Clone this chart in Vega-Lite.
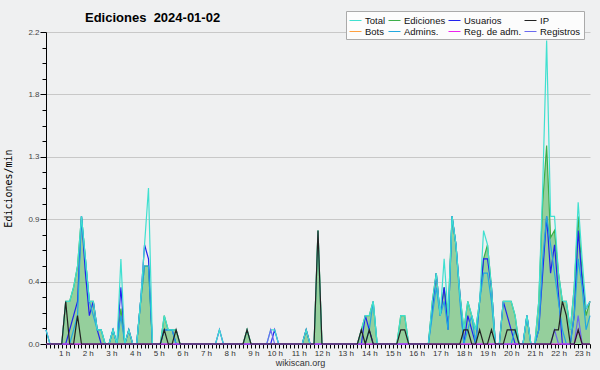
{
  "$schema": "https://vega.github.io/schema/vega-lite/v6.json",
  "width": 544,
  "height": 312,
  "autosize": {"type": "none"},
  "padding": {"left": 46, "top": 32, "right": 10, "bottom": 26},
  "background": "#eff0f1",
  "config": {"view": {"stroke": null}},
  "title": {"text": "Ediciones\u00a0 2024-01-02", "anchor": "start", "frame": "group", "dx": 39, "dy": 24, "font": "Liberation Sans", "fontSize": 13, "fontWeight": "bold", "color": "#000000", "offset": 0, "baseline": "alphabetic"},
  "data": {"values": [
    {"t":0,"T":0.1,"E":0,"U":0.1,"I":0,"A":0,"R":0,"M":0},
    {"t":1,"T":0,"E":0,"U":0,"I":0,"A":0,"R":0,"M":0},
    {"t":4,"T":0,"E":0,"U":0,"I":0,"A":0,"R":0,"M":0},
    {"t":5,"T":0.3,"E":0.3,"U":0,"I":0.3,"A":0,"R":0,"M":0},
    {"t":6,"T":0.3,"E":0.3,"U":0.1,"I":0,"A":0,"R":0,"M":0},
    {"t":7,"T":0.4,"E":0.4,"U":0.2,"I":0,"A":0.1,"R":0,"M":0},
    {"t":8,"T":0.55,"E":0.55,"U":0.3,"I":0.2,"A":0.2,"R":0,"M":0},
    {"t":9,"T":0.9,"E":0.9,"U":0.9,"I":0,"A":0.9,"R":0,"M":0},
    {"t":10,"T":0.6,"E":0.6,"U":0.5,"I":0,"A":0.6,"R":0,"M":0},
    {"t":11,"T":0.3,"E":0.3,"U":0.2,"I":0,"A":0.3,"R":0,"M":0},
    {"t":12,"T":0.3,"E":0.3,"U":0.3,"I":0,"A":0.2,"R":0,"M":0},
    {"t":13,"T":0.1,"E":0.1,"U":0.1,"I":0,"A":0.1,"R":0,"M":0},
    {"t":14,"T":0.1,"E":0.1,"U":0,"I":0,"A":0.1,"R":0,"M":0},
    {"t":15,"T":0,"E":0,"U":0,"I":0,"A":0,"R":0,"M":0},
    {"t":16,"T":0,"E":0,"U":0,"I":0,"A":0,"R":0,"M":0},
    {"t":17,"T":0.1,"E":0.1,"U":0.1,"I":0,"A":0.1,"R":0,"M":0},
    {"t":18,"T":0,"E":0,"U":0,"I":0,"A":0,"R":0,"M":0},
    {"t":19,"T":0.6,"E":0.25,"U":0.4,"I":0,"A":0.2,"R":0,"M":0},
    {"t":20,"T":0,"E":0,"U":0,"I":0,"A":0,"R":0,"M":0},
    {"t":21,"T":0.1,"E":0.1,"U":0.1,"I":0,"A":0,"R":0,"M":0},
    {"t":22,"T":0,"E":0,"U":0,"I":0,"A":0,"R":0,"M":0},
    {"t":23,"T":0,"E":0,"U":0,"I":0,"A":0,"R":0,"M":0},
    {"t":24,"T":0.3,"E":0.3,"U":0.3,"I":0,"A":0.3,"R":0,"M":0},
    {"t":25,"T":0.7,"E":0.55,"U":0.7,"I":0,"A":0.55,"R":0,"M":0},
    {"t":26,"T":1.1,"E":0.55,"U":0.6,"I":0,"A":0.55,"R":0,"M":0},
    {"t":27,"T":0,"E":0,"U":0,"I":0,"A":0,"R":0,"M":0},
    {"t":29,"T":0,"E":0,"U":0,"I":0,"A":0,"R":0,"M":0},
    {"t":30,"T":0.2,"E":0.2,"U":0.1,"I":0.1,"A":0.1,"R":0,"M":0},
    {"t":31,"T":0.1,"E":0.1,"U":0.1,"I":0,"A":0.1,"R":0,"M":0},
    {"t":32,"T":0.1,"E":0.1,"U":0.1,"I":0,"A":0.1,"R":0,"M":0},
    {"t":33,"T":0.1,"E":0.1,"U":0,"I":0.1,"A":0,"R":0,"M":0},
    {"t":34,"T":0,"E":0,"U":0,"I":0,"A":0,"R":0,"M":0},
    {"t":43,"T":0,"E":0,"U":0,"I":0,"A":0,"R":0,"M":0},
    {"t":44,"T":0.1,"E":0,"U":0.1,"I":0,"A":0,"R":0,"M":0},
    {"t":45,"T":0,"E":0,"U":0,"I":0,"A":0,"R":0,"M":0},
    {"t":50,"T":0,"E":0,"U":0,"I":0,"A":0,"R":0,"M":0},
    {"t":51,"T":0.1,"E":0.1,"U":0,"I":0.1,"A":0,"R":0,"M":0},
    {"t":52,"T":0,"E":0,"U":0,"I":0,"A":0,"R":0,"M":0},
    {"t":56,"T":0,"E":0,"U":0,"I":0,"A":0,"R":0,"M":0},
    {"t":57,"T":0.1,"E":0,"U":0,"I":0,"A":0,"R":0.1,"M":0},
    {"t":58,"T":0.1,"E":0,"U":0.1,"I":0,"A":0,"R":0,"M":0},
    {"t":59,"T":0,"E":0,"U":0,"I":0,"A":0,"R":0,"M":0},
    {"t":65,"T":0,"E":0,"U":0,"I":0,"A":0,"R":0,"M":0},
    {"t":66,"T":0.1,"E":0.1,"U":0.1,"I":0,"A":0,"R":0,"M":0},
    {"t":67,"T":0,"E":0,"U":0,"I":0,"A":0,"R":0,"M":0},
    {"t":68,"T":0,"E":0,"U":0,"I":0,"A":0,"R":0,"M":0},
    {"t":69,"T":0.8,"E":0.8,"U":0,"I":0.8,"A":0,"R":0,"M":0},
    {"t":70,"T":0,"E":0,"U":0,"I":0,"A":0,"R":0,"M":0},
    {"t":79,"T":0,"E":0,"U":0,"I":0,"A":0,"R":0,"M":0},
    {"t":80,"T":0.1,"E":0.1,"U":0,"I":0.1,"A":0,"R":0,"M":0},
    {"t":81,"T":0.2,"E":0.2,"U":0.2,"I":0,"A":0,"R":0,"M":0},
    {"t":82,"T":0.2,"E":0.2,"U":0.1,"I":0.1,"A":0.1,"R":0,"M":0},
    {"t":83,"T":0.3,"E":0.3,"U":0,"I":0,"A":0.3,"R":0,"M":0},
    {"t":84,"T":0,"E":0,"U":0,"I":0,"A":0,"R":0,"M":0},
    {"t":89,"T":0,"E":0,"U":0,"I":0,"A":0,"R":0,"M":0},
    {"t":90,"T":0.2,"E":0.2,"U":0,"I":0.1,"A":0,"R":0,"M":0},
    {"t":91,"T":0.2,"E":0.2,"U":0,"I":0.1,"A":0,"R":0,"M":0},
    {"t":92,"T":0,"E":0,"U":0,"I":0,"A":0,"R":0,"M":0},
    {"t":97,"T":0,"E":0,"U":0,"I":0,"A":0,"R":0,"M":0},
    {"t":98,"T":0.3,"E":0.3,"U":0.25,"I":0,"A":0.2,"R":0,"M":0},
    {"t":99,"T":0.5,"E":0.5,"U":0.5,"I":0,"A":0.4,"R":0,"M":0},
    {"t":100,"T":0.2,"E":0.2,"U":0.2,"I":0,"A":0.2,"R":0,"M":0},
    {"t":101,"T":0.6,"E":0.4,"U":0.4,"I":0,"A":0.3,"R":0,"M":0},
    {"t":102,"T":0.2,"E":0.2,"U":0.1,"I":0,"A":0.1,"R":0,"M":0},
    {"t":103,"T":0.9,"E":0.9,"U":0.9,"I":0,"A":0.9,"R":0,"M":0},
    {"t":104,"T":0.7,"E":0.7,"U":0.7,"I":0,"A":0.7,"R":0,"M":0},
    {"t":105,"T":0.35,"E":0.35,"U":0.35,"I":0,"A":0.3,"R":0,"M":0},
    {"t":106,"T":0.1,"E":0.1,"U":0,"I":0.1,"A":0,"R":0,"M":0},
    {"t":107,"T":0.3,"E":0.3,"U":0.2,"I":0.1,"A":0.1,"R":0,"M":0},
    {"t":108,"T":0.2,"E":0.2,"U":0.1,"I":0,"A":0.2,"R":0,"M":0},
    {"t":109,"T":0.1,"E":0.1,"U":0,"I":0,"A":0,"R":0,"M":0},
    {"t":110,"T":0.3,"E":0.3,"U":0.3,"I":0.1,"A":0.3,"R":0,"M":0},
    {"t":111,"T":0.8,"E":0.6,"U":0.6,"I":0,"A":0.5,"R":0,"M":0},
    {"t":112,"T":0.7,"E":0.7,"U":0.6,"I":0,"A":0.5,"R":0,"M":0},
    {"t":113,"T":0.4,"E":0.4,"U":0.4,"I":0.1,"A":0.3,"R":0,"M":0},
    {"t":114,"T":0,"E":0,"U":0,"I":0,"A":0,"R":0,"M":0},
    {"t":115,"T":0,"E":0,"U":0,"I":0,"A":0,"R":0,"M":0},
    {"t":116,"T":0.3,"E":0.3,"U":0.3,"I":0,"A":0,"R":0,"M":0},
    {"t":117,"T":0.3,"E":0.3,"U":0.2,"I":0.1,"A":0,"R":0,"M":0},
    {"t":118,"T":0.3,"E":0.3,"U":0.1,"I":0.1,"A":0,"R":0,"M":0},
    {"t":119,"T":0.2,"E":0.2,"U":0,"I":0.1,"A":0.1,"R":0,"M":0},
    {"t":120,"T":0,"E":0,"U":0,"I":0,"A":0,"R":0,"M":0},
    {"t":121,"T":0,"E":0,"U":0,"I":0,"A":0,"R":0,"M":0},
    {"t":122,"T":0.2,"E":0.2,"U":0.2,"I":0,"A":0.2,"R":0,"M":0},
    {"t":123,"T":0,"E":0,"U":0,"I":0,"A":0,"R":0,"M":0},
    {"t":124,"T":0,"E":0,"U":0,"I":0,"A":0,"R":0,"M":0},
    {"t":125,"T":0.3,"E":0.3,"U":0.1,"I":0,"A":0.1,"R":0,"M":0},
    {"t":126,"T":1.1,"E":1.0,"U":0.5,"I":0,"A":0.6,"R":0,"M":0},
    {"t":127,"T":2.14,"E":1.4,"U":0.9,"I":0,"A":0.9,"R":0,"M":0},
    {"t":128,"T":0.9,"E":0.75,"U":0.5,"I":0,"A":0.7,"R":0,"M":0},
    {"t":129,"T":0.9,"E":0.8,"U":0.7,"I":0.1,"A":0.5,"R":0.1,"M":0},
    {"t":130,"T":0.5,"E":0.5,"U":0.35,"I":0.1,"A":0.3,"R":0,"M":0},
    {"t":131,"T":0.3,"E":0.3,"U":0,"I":0.3,"A":0.1,"R":0,"M":0},
    {"t":132,"T":0.3,"E":0.3,"U":0,"I":0.2,"A":0,"R":0,"M":0},
    {"t":133,"T":0.1,"E":0.1,"U":0,"I":0,"A":0,"R":0,"M":0},
    {"t":134,"T":0.4,"E":0.4,"U":0.2,"I":0,"A":0.2,"R":0,"M":0},
    {"t":135,"T":1.0,"E":0.9,"U":0.8,"I":0.1,"A":0.6,"R":0.2,"M":0.1},
    {"t":136,"T":0.6,"E":0.5,"U":0.45,"I":0,"A":0.4,"R":0,"M":0},
    {"t":137,"T":0.25,"E":0.2,"U":0.25,"I":0,"A":0.1,"R":0,"M":0},
    {"t":138,"T":0.3,"E":0.3,"U":0.3,"I":0,"A":0.2,"R":0,"M":0}
  ]},
  "transform": [{"fold": ["T","E","U","I","A","R","M"], "as": ["k","v"]}],
  "encoding": {
    "x": {"field": "t", "type": "quantitative",
      "scale": {"domain": [0, 138], "nice": false, "zero": false},
      "axis": {
        "values": [0,1,2,3,4,5,6,7,8,9,10,11,12,13,14,15,16,17,18,19,20,21,22,23,24,25,26,27,28,29,30,31,32,33,34,35,36,37,38,39,40,41,42,43,44,45,46,47,48,49,50,51,52,53,54,55,56,57,58,59,60,61,62,63,64,65,66,67,68,69,70,71,72,73,74,75,76,77,78,79,80,81,82,83,84,85,86,87,88,89,90,91,92,93,94,95,96,97,98,99,100,101,102,103,104,105,106,107,108,109,110,111,112,113,114,115,116,117,118,119,120,121,122,123,124,125,126,127,128,129,130,131,132,133,134,135,136,137,138],
        "labelExpr": "datum.value % 6 == 0 && datum.value > 0 ? (datum.value / 6) + ' h' : ''",
        "labelAlign": "right", "labelDx": 1, "labelOverlap": false, "labelBound": false, "labelFlush": false,
        "tickSize": 4, "tickColor": "#000000", "domainColor": "#000000", "grid": false,
        "labelFont": "Liberation Sans", "labelFontSize": 8, "labelColor": "#333333", "labelPadding": 1,
        "title": "wikiscan.org", "titleFont": "Liberation Sans", "titleFontSize": 9, "titleFontWeight": "normal", "titleColor": "#333333",
        "titleX": 254, "titleY": 21, "titleBaseline": "alphabetic", "titleAlign": "center"
      }},
    "y": {"field": "v", "type": "quantitative",
      "scale": {"domain": [0, 2.2], "nice": false},
      "axis": {
        "values": [0,0.11,0.22,0.33,0.44,0.55,0.66,0.77,0.88,0.99,1.1,1.21,1.32,1.43,1.54,1.65,1.76,1.87,1.98,2.09,2.2],
        "labelExpr": "round(datum.value / 0.11) % 4 == 0 ? format(datum.value, '.1f') : ''",
        "tickSize": {"condition": {"test": "round(datum.value / 0.11) % 4 == 0", "value": 6}, "value": 4},
        "grid": true, "gridColor": "#c8c8c8",
        "gridOpacity": {"condition": {"test": "round(datum.value / 0.11) % 4 == 0 && datum.value > 0", "value": 1}, "value": 0},
        "labelOverlap": false, "labelBound": false, "labelFlush": false,
        "labelFont": "Liberation Sans", "labelFontSize": 8, "labelColor": "#444444", "labelPadding": 1,
        "tickColor": "#000000", "domainColor": "#000000",
        "title": "Ediciones/min", "titleFont": "DejaVu Sans Mono", "titleFontSize": 10, "titleFontWeight": "normal", "titleColor": "#000000", "titlePadding": 14
      }},
    "color": {"field": "k", "type": "nominal",
      "scale": {"domain": ["T","B","E","A","U","M","I","R"], "range": ["#40e0d0","#ffa040","#3cae48","#22a8e0","#2222ee","#ee22ee","#222222","#6a6af0"]},
      "legend": {"orient": "none", "legendX": 300, "legendY": -21, "columns": 4, "columnPadding": 0, "rowPadding": 0,
        "symbolType": "stroke", "symbolSize": 144, "symbolStrokeWidth": 1,
        "labelFont": "Liberation Sans", "labelFontSize": 9.5, "labelOffset": 3, "labelColor": "#111111",
        "fillColor": "#fcfcfc", "strokeColor": "#aaaaaa", "padding": 3, "title": null,
        "labelExpr": "({'T':'Total','E':'Ediciones','U':'Usuarios','I':'IP','B':'Bots','A':'Admins.','M':'Reg. de adm.','R':'Registros'})[datum.label]"}}
  },
  "layer": [
    {"transform": [{"filter": "datum.k == 'E'"}], "mark": {"type": "area", "fillOpacity": 0.5}},
    {"transform": [{"filter": "datum.k == 'E'"}], "mark": {"type": "line", "strokeWidth": 1.2}},
    {"transform": [{"filter": "datum.k == 'U'"}], "mark": {"type": "line", "strokeWidth": 1.2}},
    {"transform": [{"filter": "datum.k == 'A'"}], "mark": {"type": "line", "strokeWidth": 1.2}},
    {"transform": [{"filter": "datum.k == 'T'"}], "mark": {"type": "line", "strokeWidth": 1.2}},
    {"transform": [{"filter": "datum.k == 'R'"}], "mark": {"type": "line", "strokeWidth": 1.2}},
    {"transform": [{"filter": "datum.k == 'M'"}], "mark": {"type": "line", "strokeWidth": 1.2}},
    {"transform": [{"filter": "datum.k == 'I'"}], "mark": {"type": "line", "strokeWidth": 1.2}},
    {"data": {"values": [{}]},
     "mark": {"type": "text", "text": "CC BY-SA 3.0", "align": "right", "baseline": "alphabetic", "dy": 21, "font": "Liberation Sans", "fontSize": 6.5},
     "encoding": {"x": {"datum": 138}, "y": {"datum": 0}, "color": {"value": "#444444"}}}
  ]
}
